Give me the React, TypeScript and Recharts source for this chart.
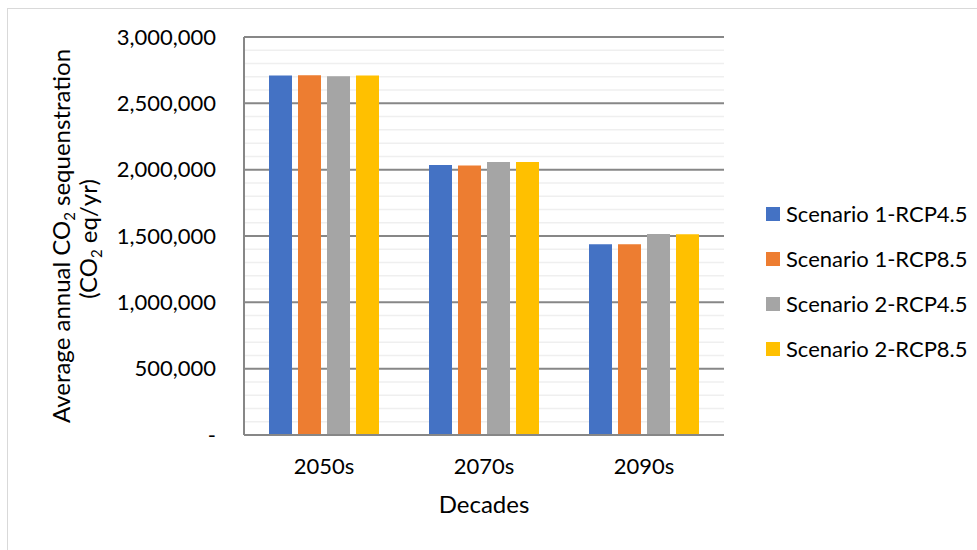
import React from 'react';
import { BarChart, Bar, XAxis, YAxis, CartesianGrid, Legend, Label } from 'recharts';

// decades on the category axis
const decades = ['2050s', '2070s', '2090s'];

// average annual CO2 sequestration per scenario (CO2 eq/yr)
const scenario1Rcp45 = [2710000, 2035000, 1437000];
const scenario1Rcp85 = [2712000, 2032000, 1437000];
const scenario2Rcp45 = [2705000, 2057000, 1515000];
const scenario2Rcp85 = [2710000, 2057000, 1513000];

const majorTicks = [0, 500000, 1000000, 1500000, 2000000, 2500000, 3000000];
const minorTicks = [
  100000, 200000, 300000, 400000, 600000, 700000, 800000, 900000,
  1100000, 1200000, 1300000, 1400000, 1600000, 1700000, 1800000, 1900000,
  2100000, 2200000, 2300000, 2400000, 2600000, 2700000, 2800000, 2900000,
];

const series = [
  { key: 's1_45', name: 'Scenario 1-RCP4.5', color: '#4472C4', values: scenario1Rcp45 },
  { key: 's1_85', name: 'Scenario 1-RCP8.5', color: '#ED7D31', values: scenario1Rcp85 },
  { key: 's2_45', name: 'Scenario 2-RCP4.5', color: '#A5A5A5', values: scenario2Rcp45 },
  { key: 's2_85', name: 'Scenario 2-RCP8.5', color: '#FFC000', values: scenario2Rcp85 },
];

const data = decades.map((decade, i) => {
  const row: Record<string, string | number> = { decade };
  series.forEach(s => { row[s.key] = s.values[i]; });
  return row;
});

const FONT = 'Lato, "Open Sans", sans-serif';
const GRID_DARK = '#878787';

const formatTick = (v: number) => (v === 0 ? '-' : v.toLocaleString('en-US'));

const YTitle = (props: any) => {
  const vb = props.viewBox || { y: 37, height: 398 };
  const cy = vb.y + vb.height / 2;
  return (
    <g fontFamily={FONT} fontSize={24} fill="#000">
      <text transform={`translate(70, ${cy}) rotate(-90)`} textAnchor="middle">
        Average annual CO<tspan fontSize={15} dy={5}>2</tspan>
        <tspan dy={-5}> sequenstration</tspan>
      </text>
      <text transform={`translate(97, ${cy + 3}) rotate(-90)`} textAnchor="middle">
        (CO<tspan fontSize={15} dy={5}>2</tspan>
        <tspan dy={-5}> eq/yr)</tspan>
      </text>
    </g>
  );
};

const XTitle = (props: any) => {
  const vb = props.viewBox || { x: 244, y: 435, width: 480 };
  return (
    <text x={vb.x + vb.width / 2} y={vb.y + 78} textAnchor="middle" fontFamily={FONT} fontSize={24} fill="#000">
      Decades
    </text>
  );
};

const LegendBox = () => (
  <div style={{ fontFamily: FONT, fontSize: 22, color: '#000' }}>
    {series.map(s => (
      <div key={s.key} style={{ display: 'flex', alignItems: 'center', height: 45 }}>
        <span style={{ width: 14, height: 14, background: s.color, marginRight: 6, display: 'inline-block' }} />
        <span style={{ whiteSpace: 'nowrap' }}>{s.name}</span>
      </div>
    ))}
  </div>
);

export default function App() {
  return (
    <div style={{ position: 'fixed', left: 0, top: 0, width: 977, height: 550, background: '#fff', overflow: 'hidden' }}>
      <div style={{ position: 'absolute', left: 7, top: 8, width: 1000, height: 600, border: '1px solid #d9d9d9' }} />
      <BarChart
        width={977}
        height={550}
        data={data}
        margin={{ top: 37, right: 253, bottom: 0, left: 0 }}
        barCategoryGap={25}
        barGap={6}
      >
        <CartesianGrid vertical={false} horizontalValues={minorTicks} stroke="#efefef" strokeWidth={1.5} />
        <CartesianGrid vertical={false} horizontalValues={majorTicks} stroke={GRID_DARK} strokeWidth={2} />
        <XAxis
          dataKey="decade"
          height={115}
          tickSize={0}
          tickMargin={23}
          axisLine={{ stroke: GRID_DARK, strokeWidth: 2 }}
          tick={{ fill: '#000', fontSize: 22, fontFamily: FONT }}
        >
          <Label content={<XTitle />} />
        </XAxis>
        <YAxis
          domain={[0, 3000000]}
          ticks={majorTicks}
          width={244}
          tickSize={0}
          tickMargin={28}
          tickFormatter={formatTick}
          axisLine={{ stroke: GRID_DARK, strokeWidth: 2 }}
          tick={{ fill: '#000', fontSize: 22, fontFamily: FONT }}
          interval={0}
        >
          <Label content={<YTitle />} />
        </YAxis>
        <YAxis
          yAxisId="frame"
          orientation="right"
          width={0}
          domain={[0, 3000000]}
          tick={false}
          tickLine={false}
          axisLine={{ stroke: GRID_DARK, strokeWidth: 2 }}
        />
        <Legend
          layout="vertical"
          align="center"
          verticalAlign="middle"
          content={<LegendBox />}
          wrapperStyle={{ position: 'absolute', left: 766, top: 191, width: 210 }}
        />
        {series.map(s => (
          <Bar key={s.key} dataKey={s.key} name={s.name} fill={s.color} isAnimationActive={false} />
        ))}
      </BarChart>
    </div>
  );
}
